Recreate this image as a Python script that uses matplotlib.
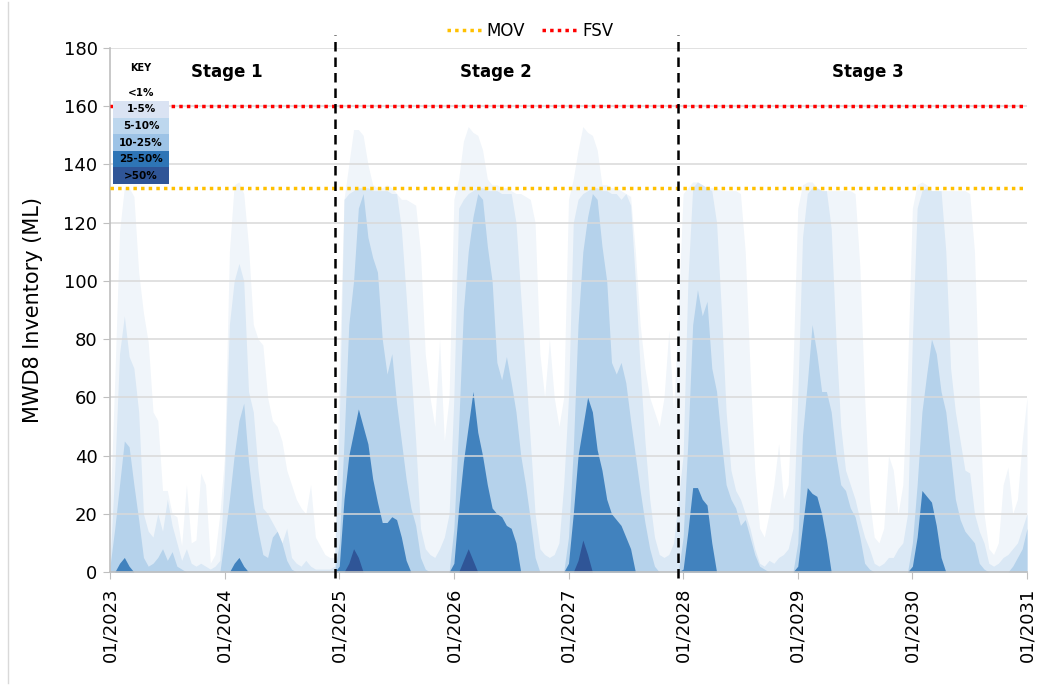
import numpy as np
import matplotlib
matplotlib.use("Agg")
import matplotlib.pyplot as plt
from matplotlib.lines import Line2D
from matplotlib.patches import Rectangle

# half-monthly readings, Jan 2023 .. Jan 2031 (24 per year + final point)
band_lt1 = [  # <1% envelope
    20, 66, 117, 132, 132, 129, 103, 89, 79, 55, 52, 28, 28, 20, 19, 9, 30, 10, 11, 34, 30, 3, 6, 20,
    40, 110, 133, 134, 130, 112, 85, 80, 78, 60, 52, 50, 45, 35, 30, 25, 22, 20, 30, 12, 9, 6, 5, 5,
    70, 128, 140, 152, 152, 150, 140, 133, 132, 132, 133, 132, 130, 128, 128, 127, 126, 110, 75, 60, 50, 80, 45, 60,
    128, 135, 148, 153, 151, 150, 145, 135, 133, 133, 132, 132, 131, 130, 130, 129, 128, 120, 75, 60, 80, 60, 50, 60,
    128, 135, 145, 153, 151, 150, 145, 133, 133, 132, 132, 131, 130, 129, 110, 85, 70, 60, 55, 50, 60, 83, 55, 90,
    130, 132, 134, 134, 133, 132, 132, 132, 131, 131, 131, 131, 130, 110, 70, 35, 15, 12, 20, 30, 44, 25, 30, 70,
    125, 133, 134, 134, 132, 131, 131, 131, 131, 131, 131, 131, 130, 105, 60, 25, 12, 10, 15, 40, 35, 20, 30, 70,
    125, 133, 134, 133, 131, 131, 131, 131, 131, 131, 131, 131, 130, 110, 60, 20, 8, 6, 10, 30, 36, 20, 25, 45,
    60,
]
band_1_5 = [
    3, 35, 75, 88, 74, 70, 55, 20, 14, 12, 20, 14, 25, 16, 10, 4, 8, 3, 2, 3, 2, 1, 2, 4,
    35, 85, 100, 106, 100, 62, 55, 35, 22, 20, 17, 14, 10, 15, 5, 3, 2, 4, 2, 1, 1, 1, 1, 2,
    50, 128, 130, 131, 132, 132, 132, 131, 131, 131, 131, 130, 130, 118, 95, 70, 45, 15, 8, 6, 5, 8, 12, 20,
    60, 125, 128, 130, 131, 132, 132, 131, 131, 131, 130, 130, 130, 120, 95, 70, 45, 20, 8, 6, 5, 6, 10, 30,
    60, 120, 128, 130, 131, 132, 132, 131, 131, 130, 130, 128, 130, 126, 100, 70, 45, 25, 12, 6, 5, 6, 10, 25,
    40, 100, 132, 134, 133, 132, 131, 120, 90, 55, 35, 28, 25, 20, 15, 8, 3, 2, 4, 3, 5, 6, 8, 15,
    60, 115, 130, 132, 132, 131, 131, 118, 80, 50, 35, 30, 25, 18, 12, 8, 3, 2, 3, 5, 5, 8, 10, 20,
    80, 125, 131, 132, 131, 131, 131, 110, 70, 55, 45, 35, 34, 20, 14, 10, 3, 2, 3, 5, 6, 8, 10, 15,
    20,
]
band_5_25 = [
    2, 15, 30, 45, 43, 30, 18, 5, 2, 3, 5, 8, 4, 7, 2, 1, 0, 0, 0, 0, 0, 0, 0, 0,
    12, 25, 40, 52, 58, 38, 24, 14, 6, 5, 12, 14, 10, 4, 1, 0, 0, 0, 0, 0, 0, 0, 0, 0,
    10, 45, 85, 100, 125, 130, 115, 108, 103, 80, 68, 75, 58, 45, 32, 22, 16, 5, 1, 0, 0, 0, 0, 0,
    15, 50, 90, 110, 122, 130, 128, 112, 100, 72, 66, 74, 65, 55, 40, 30, 18, 5, 0, 0, 0, 0, 0, 0,
    12, 42, 85, 110, 122, 130, 128, 112, 100, 72, 68, 72, 65, 52, 40, 28, 17, 8, 2, 0, 0, 0, 0, 0,
    12, 45, 85, 97, 88, 93, 70, 62, 45, 30, 25, 22, 16, 18, 12, 6, 2, 1, 0, 0, 0, 0, 0, 0,
    10, 47, 65, 85, 75, 62, 62, 55, 40, 30, 28, 22, 19, 12, 3, 1, 0, 0, 0, 0, 0, 0, 0, 0,
    10, 30, 55, 68, 80, 75, 62, 55, 40, 25, 18, 14, 12, 10, 3, 1, 0, 0, 0, 0, 0, 2, 5, 8,
    15,
]
band_25_50 = [
    0, 0, 3, 5, 2, 0, 0, 0, 0, 0, 0, 0, 0, 0, 0, 0, 0, 0, 0, 0, 0, 0, 0, 0,
    0, 0, 3, 5, 2, 0, 0, 0, 0, 0, 0, 0, 0, 0, 0, 0, 0, 0, 0, 0, 0, 0, 0, 0,
    2, 25, 40, 48, 56, 50, 44, 32, 24, 17, 17, 19, 18, 12, 4, 0, 0, 0, 0, 0, 0, 0, 0, 0,
    3, 22, 38, 50, 62, 48, 40, 30, 22, 20, 19, 16, 15, 10, 0, 0, 0, 0, 0, 0, 0, 0, 0, 0,
    3, 20, 40, 50, 60, 55, 42, 35, 25, 20, 18, 16, 12, 8, 0, 0, 0, 0, 0, 0, 0, 0, 0, 0,
    1, 14, 29, 29, 25, 23, 10, 0, 0, 0, 0, 0, 0, 0, 0, 0, 0, 0, 0, 0, 0, 0, 0, 0,
    2, 16, 29, 27, 26, 20, 11, 0, 0, 0, 0, 0, 0, 0, 0, 0, 0, 0, 0, 0, 0, 0, 0, 0,
    2, 12, 28, 26, 24, 16, 5, 0, 0, 0, 0, 0, 0, 0, 0, 0, 0, 0, 0, 0, 0, 0, 0, 0,
    0,
]
band_gt50 = [
    0, 0, 0, 0, 0, 0, 0, 0, 0, 0, 0, 0, 0, 0, 0, 0, 0, 0, 0, 0, 0, 0, 0, 0,
    0, 0, 0, 0, 0, 0, 0, 0, 0, 0, 0, 0, 0, 0, 0, 0, 0, 0, 0, 0, 0, 0, 0, 0,
    0, 0, 3, 8, 5, 0, 0, 0, 0, 0, 0, 0, 0, 0, 0, 0, 0, 0, 0, 0, 0, 0, 0, 0,
    0, 0, 4, 8, 4, 0, 0, 0, 0, 0, 0, 0, 0, 0, 0, 0, 0, 0, 0, 0, 0, 0, 0, 0,
    0, 0, 4, 11, 6, 0, 0, 0, 0, 0, 0, 0, 0, 0, 0, 0, 0, 0, 0, 0, 0, 0, 0, 0,
    0, 0, 0, 0, 0, 0, 0, 0, 0, 0, 0, 0, 0, 0, 0, 0, 0, 0, 0, 0, 0, 0, 0, 0,
    0, 0, 0, 0, 0, 0, 0, 0, 0, 0, 0, 0, 0, 0, 0, 0, 0, 0, 0, 0, 0, 0, 0, 0,
    0, 0, 0, 0, 0, 0, 0, 0, 0, 0, 0, 0, 0, 0, 0, 0, 0, 0, 0, 0, 0, 0, 0, 0,
    0,
]
band_colors = ["#F0F5FA", "#DAE8F5", "#B5D2EB", "#4182BE", "#2F5597"]

years = [2023, 2024, 2025, 2026, 2027, 2028, 2029, 2030, 2031]
year_labels = ["01/2023", "01/2024", "01/2025", "01/2026", "01/2027",
               "01/2028", "01/2029", "01/2030", "01/2031"]
mov = 132
fsv = 160
stage_breaks = [2024.963, 2027.956]
stage_names = ["Stage 1", "Stage 2", "Stage 3"]
stage_x = [2024.02, 2026.37, 2029.61]

key_labels = ["1-5%", "5-10%", "10-25%", "25-50%", ">50%"]
key_colors = ["#DAE3F3", "#BDD7EE", "#9DC3E6", "#2E75B6", "#2F5597"]

W, H = 1040, 685
fig = plt.figure(figsize=(W / 100, H / 100), dpi=100)
ax = fig.add_axes([110 / W, 1 - 572 / H, 917 / W, 524 / H])

x = 2023 + np.arange(len(band_lt1)) / 24.0
for vals, col in zip([band_lt1, band_1_5, band_5_25, band_25_50, band_gt50], band_colors):
    ax.fill_between(x, 0, vals, color=col, lw=0, zorder=1)

# grid on top of areas, like the original
for yv in range(20, 181, 20):
    ax.axhline(yv, color="#D9D9D9", lw=1.1, zorder=2)

ax.axhline(mov, color="#FFC000", lw=2.5, ls=(0, (1, 1.2)), zorder=3)
ax.axhline(fsv, color="#FF0000", lw=2.5, ls=(0, (1, 1.2)), zorder=3)

for sb in stage_breaks:
    ax.axvline(sb, ymin=-0.012, ymax=1.025, color="black", lw=1.8,
               ls=(0, (3.8, 2.4)), clip_on=False, zorder=4)
for sx, name in zip(stage_x, stage_names):
    ax.text(sx, 171.8, name, ha="center", va="center", fontsize=12,
            fontweight="bold", zorder=5)

ax.set_xlim(2023, 2031)
ax.set_ylim(0, 180)
ax.set_yticks(range(0, 181, 20))
ax.set_xticks(years)
ax.set_xticklabels(year_labels, rotation=90, fontsize=13)
ax.tick_params(axis="y", labelsize=13, length=5, color="#BFBFBF", pad=4)
ax.tick_params(axis="x", length=5, color="#BFBFBF", pad=6)
for s in ["top", "right"]:
    ax.spines[s].set_visible(False)
for s in ["left", "bottom"]:
    ax.spines[s].set_color("#BFBFBF")
    ax.spines[s].set_linewidth(1.2)
ax.set_ylabel("MWD8 Inventory (ML)", fontsize=15, labelpad=15)

# key box (drawn in figure pixels)
def fx(px):
    return px / W

def fy(py):
    return 1 - py / H

fig.text(fx(141), fy(68), "KEY", ha="center", va="center", fontsize=7, fontweight="bold")
fig.text(fx(141), fy(93), "<1%", ha="center", va="center", fontsize=7.5, fontweight="bold")
row_top = 101
row_h = 16.6
for i, (lab, col) in enumerate(zip(key_labels, key_colors)):
    top = row_top + i * row_h
    fig.add_artist(Rectangle((fx(113), fy(top + row_h)), 56 / W, row_h / H,
                             transform=fig.transFigure, facecolor=col, edgecolor="none", zorder=6))
    fig.text(fx(141), fy(top + row_h / 2), lab, ha="center", va="center",
             fontsize=7.5, fontweight="bold", zorder=7)

handles = [Line2D([], [], color="#FFC000", lw=2.5, ls=(0, (1, 1.2))),
           Line2D([], [], color="#FF0000", lw=2.5, ls=(0, (1, 1.2)))]
fig.legend(handles, ["MOV", "FSV"], loc="center", bbox_to_anchor=(fx(530), fy(31)),
           ncol=2, frameon=False, fontsize=12, handlelength=2.1, columnspacing=1.0,
           handletextpad=0.3)

# faint chart-area border on the left
fig.add_artist(Line2D([fx(8), fx(8)], [fy(683), fy(2)], transform=fig.transFigure,
                      color="#D9D9D9", lw=1))

fig.savefig("out.png", dpi=100)
